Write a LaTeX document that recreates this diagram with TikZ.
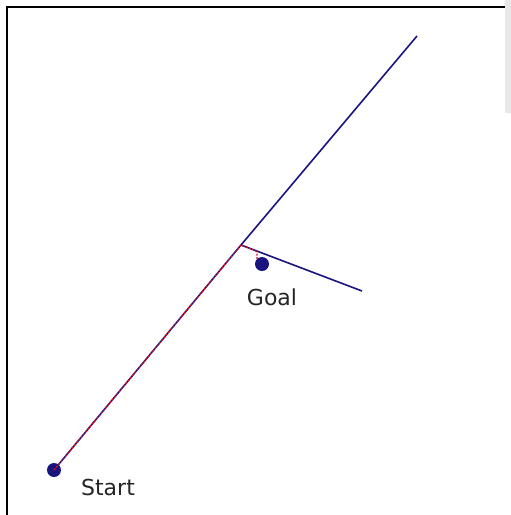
\documentclass[tikz,border=0pt]{standalone}
\usepackage{fontspec}
\setmainfont{DejaVu Sans}
\definecolor{navy}{HTML}{1A1480}
\definecolor{pathred}{HTML}{E0101C}
\definecolor{strip}{HTML}{E8E8E8}
\tikzset{
  dot/.style={circle,fill=navy,inner sep=0pt,minimum size=14pt},
  lbl/.style={font=\fontsize{22}{26}\selectfont,text=black!85,inner sep=0pt},
  ray/.style={navy,line width=1.6pt},
  route/.style={pathred,line width=1.2pt,dash pattern=on 2pt off 1.5pt}
}
\begin{document}
\begin{tikzpicture}[x=1pt,y=-1pt]
\useasboundingbox (0,0) rectangle (511,515);
\fill[white] (0,0) rectangle (511,515);
\fill[strip] (505,0) rectangle (511,113);
\draw[black,line width=1.5pt] (7,515) -- (7,7) -- (505,7);
\node[dot] (start) at (54,470) {};
\node[dot] (goal) at (262,264) {};
\coordinate (bend) at (241,245);
\coordinate (far) at (417,36);
\coordinate (side) at (362,291);
\coordinate (r1) at (256,251);
\draw[ray] (start.center) -- (bend) -- (far);
\draw[ray] (bend) -- (side);
\draw[route,xshift=-0.9pt,yshift=-0.5pt] (start.center) -- (bend) -- (r1) .. controls (258,253) .. (goal.north west);
\node[lbl] (startlbl) at (108,487) {Start};
\node[lbl] (goallbl) at (272,297) {Goal};
\end{tikzpicture}
\end{document}
